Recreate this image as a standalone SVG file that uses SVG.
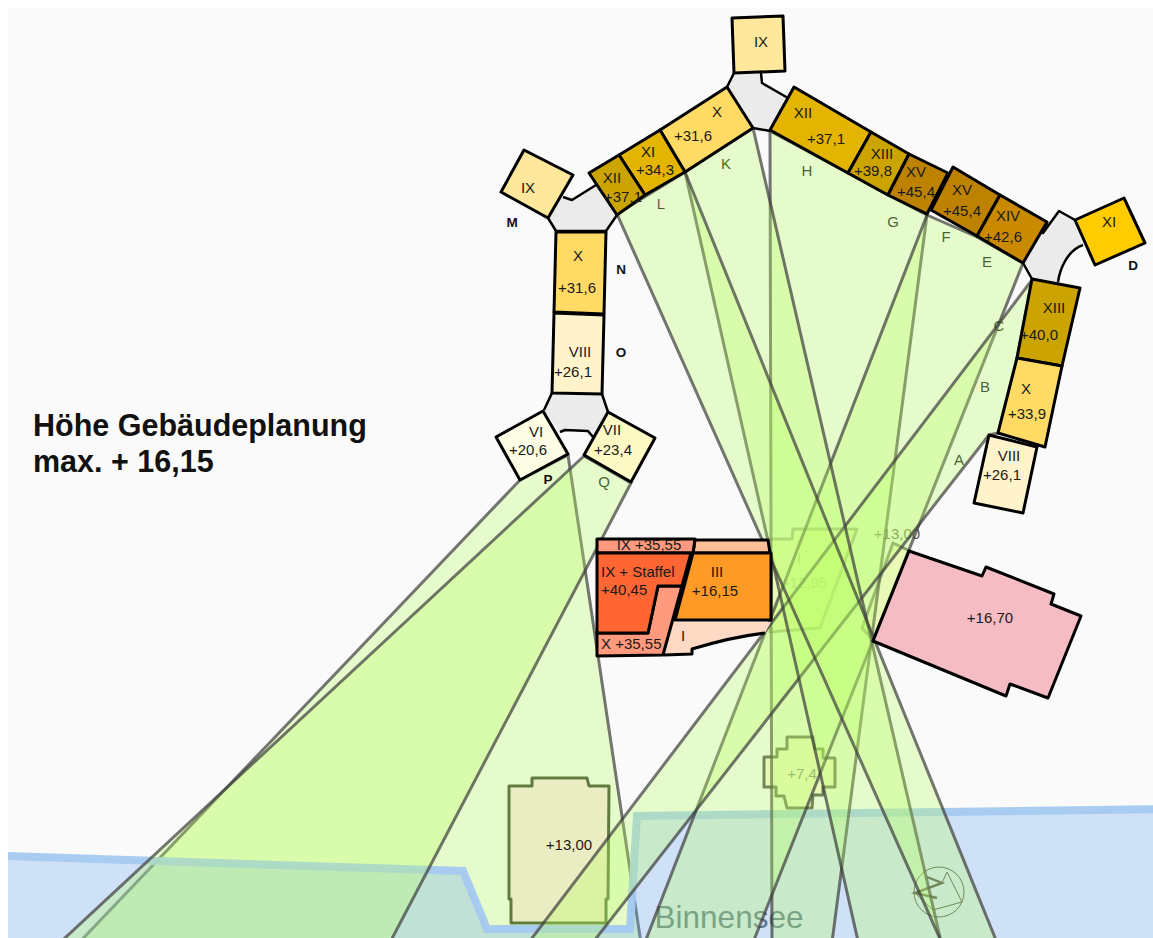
<svg xmlns="http://www.w3.org/2000/svg" width="1153" height="938" viewBox="0 0 1153 938">
<style>
text{font-family:"Liberation Sans",Arial,sans-serif;font-size:15px;fill:#1a1a1a;text-anchor:middle}
.c{fill:#b9ff64;fill-opacity:.3;stroke:#3c3c3c;stroke-opacity:.7;stroke-width:3;stroke-linejoin:round}
.n polygon,.n path{stroke:#000;stroke-width:3;stroke-linejoin:round}
.old{fill:#ffe6ea;stroke:#3a4230;stroke-width:3;stroke-linejoin:round}
.pale{fill:#fdf6d8;stroke:#555;stroke-width:3;stroke-linejoin:round}
.g{fill:#ebebeb;stroke:none}
.e{fill:none;stroke:#000;stroke-width:2.5;stroke-linejoin:round}
.b{font-weight:bold;font-size:13.500px;fill:#111}
.f{fill:#777}
.t{font-family:"Liberation Sans",Arial,sans-serif;font-size:30.500px;font-weight:bold;fill:#111;text-anchor:start}
.l{text-anchor:start}
</style>
<defs><clipPath id="page"><rect x="8" y="8" width="1145" height="930"/></clipPath></defs>
<rect width="1153" height="938" fill="#fff"/>
<rect x="8" y="8" width="1145" height="930" fill="#fafafa"/>
<g id="buildings-under">
<path class="old" d="M509 786L532 786L532 778L587 778L589 786L609 786L608 899L606 899L606 923L511 923L511 899L509 899Z"/>
<path class="pale" d="M787 737L813 737L815 749L823 749L823 758L835 758L835 787L823 787L823 795L813 795L812 808L787 808L784 796L776 796L776 787L764 787L764 757L777 757L777 749L787 749Z"/>
<text class="f" x="802" y="779">+7,4</text>
<path class="pale" style="stroke:#999" d="M770 539L792 539L793 529L857 529L820 628L770 632Z"/>
<text class="f" style="fill:#aaa" x="799" y="563">I</text>
<text class="f" style="fill:#aaa" x="804" y="588">+12,95</text>
<path class="pale" style="stroke:#777" d="M893 543L910 551L873 640L862 628Z"/>
<text x="897" y="539" style="fill:#555">+13,00</text>
</g>
<g id="cone-labels" fill="#333">
<text x="726" y="169">K</text><text x="661" y="209">L</text><text x="807" y="176">H</text>
<text x="893" y="227">G</text><text x="946" y="242">F</text><text x="987" y="267">E</text>
<text x="999" y="331">C</text><text x="985" y="392">B</text><text x="959" y="465">A</text><text x="604" y="487">Q</text>
</g>
<g id="connector-p">
<polygon class="c" points="520,480 568,455 642,950 72,950"/>
</g>
<g id="water" clip-path="url(#page)">
<path d="M-10 855.500L463 871L487 929L630 929L637 816L1170 809V960H-10Z" fill="#6baaf0" fill-opacity=".3" stroke="#a4c9f0" stroke-opacity=".95" stroke-width="8"/>
<text x="729" y="928" style="font-size:31.500px;fill:#5f7a94">Binnensee</text>
<g id="compass" fill="none" stroke="#555">
<circle cx="939" cy="892" r="25" stroke-width="1"/>
<path d="M927 877L942 883L915 893L937 898" stroke-width="2.400"/>
<path d="M942 883L947 872L962 902L933 910L915 893" stroke-width="1"/>
</g>
</g>
<g id="connectors">
<polygon class="c" points="584,456 631,483 386,950 52,950"/>
<polygon class="c" points="770,131 848,173 888,195 927,215 831,950 772,950"/>
<polygon class="c" points="927,215 977,237 1023,263 750,950 642,950"/>
<polygon class="c" points="1032,280 1017,358 998,433 989,435 587,950 523,950"/>
<polygon class="c" points="685,172 753,128 943,950 860,950"/>
<polygon class="c" points="617,214 685,172 1000,950 945,950"/>
</g>
<text x="569" y="850">+13,00</text>
<g id="block-pink" class="n">
<polygon fill="#f6bcc4" points="909,551 982,576 986,567 1054,594 1051,604 1081,616 1048,698 1010,684 1006,696 873,641"/>
<text x="990" y="623">+16,70</text>
</g>
<g id="block-orange" class="n">
<polygon fill="#ffbe96" points="695,540 768,540 770,553 693,553"/>
<polygon fill="#ff9a7e" points="597,539 695,539 693,553 597,553"/>
<path d="M673 622L771 622L765 633C740 636 715 642 692 649L692 654L664 655Z" fill="#fedac4" style="stroke:none"/>
<path d="M664 655L692 654L692 649C715 642 740 636 765 633" fill="none"/>
<polygon fill="#ff9a7e" points="658,586 682,586 663,655 597,656 597,633 648,633"/>
<polygon fill="#ff6633" points="597,553 691,553 682,586 658,586 648,633 597,633"/>
<polygon fill="#ff9a26" points="693,553 771,553 771,620 675,620"/>
<text x="649" y="550">IX +35,55</text>
<text class="l" x="601" y="577">IX + Staffel</text>
<text class="l" x="601" y="595">+40,45</text>
<text x="717" y="577">III</text>
<text x="715" y="596">+16,15</text>
<text class="l" x="601" y="649">X +35,55</text>
<text x="683" y="641">I</text>
</g>
<g id="core-top">
<polygon class="g" points="734,73 727,87 753,128 770,131 788,98 762,83 761,73"/>
<path class="e" d="M734 73L727 87M753 128L770 131M761 73L762 83L788 98"/>
</g>
<g id="core-left">
<polygon class="g" points="596,185 572,200 563,197 548,218 556,231 606,231 617,215"/>
<path class="e" d="M596 185L572 200L563 197M548 218L556 231L606 231L617 215"/>
</g>
<g id="core-bottom">
<polygon class="g" points="552,393 544,410 560,432 565,430 588,431 593,437 608,412 602,394"/>
<path class="e" d="M552 393L544 410M560 432L565 430L588 431L593 437M608 412L602 394"/>
</g>
<g id="core-right">
<path class="g" d="M1023 263L1032 279L1058 282C1060 268 1068 250 1083 245L1075 220L1059 211L1043 233L1047 222Z"/>
<path class="e" d="M1023 263L1032 279M1058 282C1060 268 1068 250 1083 245M1075 220L1059 211L1043 233L1047 222"/>
</g>
<g id="node-ix-top" class="n"><polygon fill="#ffe89b" points="732,18 783,16 785,71 734,73"/><text x="761" y="47">IX</text></g>
<g id="node-x-top" class="n"><polygon fill="#ffdb66" points="727,87 753,128 685,172 660,130"/><text x="717" y="117">X</text><text x="693" y="141">+31,6</text></g>
<g id="node-xi-top" class="n"><polygon fill="#e3b500" points="660,130 685,172 645,195 619,155"/><text x="648" y="157">XI</text><text x="655" y="175">+34,3</text></g>
<g id="node-xii-left" class="n"><polygon fill="#cca400" points="619,155 645,195 617,215 589,173"/><text x="612" y="183">XII</text><text x="623" y="202">+37,1</text></g>
<g id="node-ix-left" class="n"><polygon fill="#ffe89b" points="524,150 573,175 548,218 501,192"/><text x="528" y="193">IX</text></g>
<g id="node-x-left" class="n"><polygon fill="#ffdb66" points="556,232 606,232 604,314 554,312"/><text x="578" y="261">X</text><text x="577" y="293">+31,6</text></g>
<g id="node-viii-left" class="n"><polygon fill="#fff3cc" points="554,313 604,315 602,394 552,393"/><text x="580" y="357">VIII</text><text x="573" y="377">+26,1</text></g>
<g id="node-vi" class="n"><polygon fill="#fdfde6" points="543,411 568,454 520,480 496,437"/><text x="536" y="437">VI</text><text x="528" y="455">+20,6</text></g>
<g id="node-vii" class="n"><polygon fill="#fdf9c4" points="608,412 655,438 631,482 584,455"/><text x="612" y="435">VII</text><text x="613" y="455">+23,4</text></g>
<g id="node-xii-top" class="n"><polygon fill="#e3b500" points="794,87 871,132 848,173 770,130"/><text x="803" y="118">XII</text><text x="826" y="144">+37,1</text></g>
<g id="node-xiii-top" class="n"><polygon fill="#cca400" points="871,132 909,154 888,195 848,173"/><text x="882" y="159">XIII</text><text x="873" y="176">+39,8</text></g>
<g id="node-xv-a" class="n"><polygon fill="#bd8300" points="909,154 948,173 927,214 888,195"/><text x="916" y="177">XV</text><text x="916" y="197">+45,4</text></g>
<g id="node-xv-b" class="n"><polygon fill="#bd8300" points="953,167 1000,195 977,236 931,210"/><text x="962" y="195">XV</text><text x="962" y="216">+45,4</text></g>
<g id="node-xiv" class="n"><polygon fill="#c98a00" points="1000,195 1047,222 1023,263 977,236"/><text x="1008" y="221">XIV</text><text x="1003" y="242">+42,6</text></g>
<g id="node-xi-right" class="n"><polygon fill="#ffcc00" points="1075,220 1124,198 1145,243 1095,265"/><text x="1109" y="227">XI</text></g>
<g id="node-xiii-right" class="n"><polygon fill="#cca400" points="1032,279 1080,288 1062,366 1017,358"/><text x="1054" y="313">XIII</text><text x="1039" y="340">+40,0</text></g>
<g id="node-x-right" class="n"><polygon fill="#ffdb66" points="1017,358 1062,366 1045,447 998,433"/><text x="1026" y="394">X</text><text x="1027" y="419">+33,9</text></g>
<g id="node-viii-right" class="n"><polygon fill="#fff3cc" points="989,435 1037,447 1023,513 974,503"/><text x="1009" y="461">VIII</text><text x="1002" y="480">+26,1</text></g>
<g id="labels">
<text class="b" x="512" y="227">M</text><text class="b" x="621" y="274">N</text><text class="b" x="621" y="357">O</text>
<text class="b" x="548" y="484">P</text><text class="b" x="1133" y="270">D</text>
<text class="t" x="33" y="436">Höhe Gebäudeplanung</text>
<text class="t" x="33" y="472">max. + 16,15</text>
</g>
</svg>
